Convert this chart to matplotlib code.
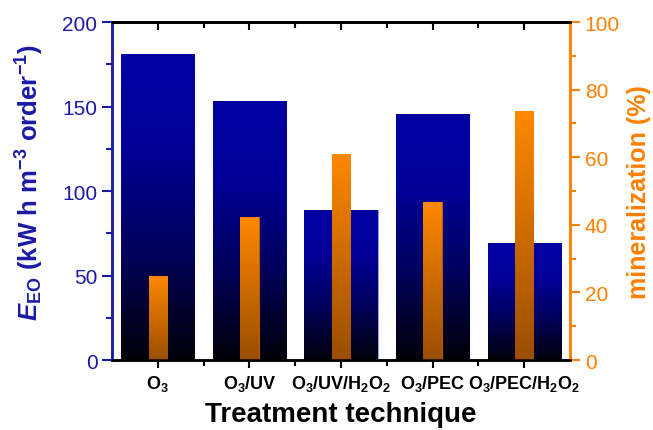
import numpy as np
import matplotlib
matplotlib.use('Agg')
from matplotlib import pyplot as plt
from matplotlib.colors import LinearSegmentedColormap
from matplotlib.ticker import MultipleLocator, FixedLocator

plt.rcParams['font.family'] = 'Liberation Sans'
plt.rcParams['mathtext.fontset'] = 'custom'
plt.rcParams['mathtext.rm'] = 'Liberation Sans'
plt.rcParams['mathtext.it'] = 'Liberation Sans:italic'
plt.rcParams['mathtext.bf'] = 'Liberation Sans:bold'
plt.rcParams['mathtext.bfit'] = 'Liberation Sans:bold:italic'

#################
# the data      #
#################
techniques = [r'O$_\mathbf{3}$', r'O$_\mathbf{3}$/UV', r'O$_\mathbf{3}$/UV/H$_\mathbf{2}$O$_\mathbf{2}$',
              r'O$_\mathbf{3}$/PEC', r'O$_\mathbf{3}$/PEC/H$_\mathbf{2}$O$_\mathbf{2}$']
e_eo = [181, 153, 89, 145.5, 69]          # kW h m-3 order-1
mineralization = [25, 42.3, 61, 46.8, 73.6]  # %

blue = '#1a1aa6'
orange = '#ff8000'

cmap_blue = LinearSegmentedColormap.from_list(
    'b', [(0, '#000008'), (0.35, '#00005a'), (0.7, '#000098'), (1, '#0000a2')])
cmap_orange = LinearSegmentedColormap.from_list('o', ['#9a4e02', '#ff8800'])

grad = np.linspace(0, 1, 256).reshape(-1, 1)


def gradient_bars(ax, bars, cmap):
    for b in bars:
        x0, y0 = b.get_x(), b.get_y()
        w, h = b.get_width(), b.get_height()
        im = ax.imshow(grad, cmap=cmap, origin='lower', aspect='auto',
                       extent=[x0, x0 + w, y0, y0 + h], zorder=b.get_zorder())
        im.set_clip_path(b)
        b.set_facecolor('none')


x = np.arange(len(techniques))

fig = plt.figure(figsize=(6.53, 4.31), dpi=100)
ax = fig.add_axes([0.1715, 0.1624, 0.7015, 0.7842])
ax2 = ax.twinx()

bars1 = ax.bar(x, e_eo, width=0.8, color='#0000a0', edgecolor='#8a8aff', linewidth=0.6, zorder=2)
gradient_bars(ax, bars1, cmap_blue)

bars2 = ax2.bar(x, mineralization, width=0.2, color=orange, edgecolor='#d96d00', linewidth=0.6, zorder=2)
gradient_bars(ax2, bars2, cmap_orange)

ax.set_xlim(-0.5, 4.5)
ax.set_ylim(0, 200)
ax2.set_ylim(0, 100)

# left axis
ax.yaxis.set_major_locator(MultipleLocator(50))
ax.yaxis.set_minor_locator(MultipleLocator(25))
ax.tick_params(axis='y', which='both', direction='out', colors=blue, labelsize=15, width=1.5)
ax.tick_params(axis='y', which='major', length=7)
ax.tick_params(axis='y', which='minor', length=4)

# right axis
ax2.yaxis.set_major_locator(MultipleLocator(20))
ax2.yaxis.set_minor_locator(MultipleLocator(10))
ax2.tick_params(axis='y', which='both', direction='out', colors=orange, labelsize=15, width=1.5)
ax2.tick_params(axis='y', which='major', length=7)
ax2.tick_params(axis='y', which='minor', length=4)

# bottom axis
ax.set_xticks(x)
ax.set_xticklabels(techniques, fontweight='bold', fontsize=13)
ax.xaxis.set_minor_locator(FixedLocator(x[:-1] + 0.5))
ax.tick_params(axis='x', which='both', direction='out', width=1.5, pad=3)
ax.tick_params(axis='x', which='major', length=6)
ax.tick_params(axis='x', which='minor', length=4)

# top axis, ticks inside
top = ax.secondary_xaxis('top')
top.set_xticks(x)
top.xaxis.set_minor_locator(FixedLocator(x[:-1] + 0.5))
top.tick_params(axis='x', which='both', direction='in', width=1.5, labeltop=False)
top.tick_params(axis='x', which='major', length=6)
top.tick_params(axis='x', which='minor', length=4)
top.spines['top'].set_linewidth(1.8)

for a in (ax, ax2):
    a.spines['left'].set_color(blue)
    a.spines['right'].set_color(orange)
    for s in a.spines.values():
        s.set_linewidth(1.8)

ax.set_ylabel(r'$\mathbfit{E}_{\mathbf{EO}}$ (kW h m$^{\mathbf{-3}}$ order$^{\mathbf{-1}}$)',
              color=blue, fontweight='bold', fontsize=18.5, labelpad=12)
ax.yaxis.label.set_y(0.527)
ax2.set_ylabel('mineralization (%)', color=orange, fontweight='bold', fontsize=18, labelpad=5)
ax.set_xlabel('Treatment technique', fontweight='bold', fontsize=20, labelpad=6)

fig.savefig('out.png', dpi=100)
